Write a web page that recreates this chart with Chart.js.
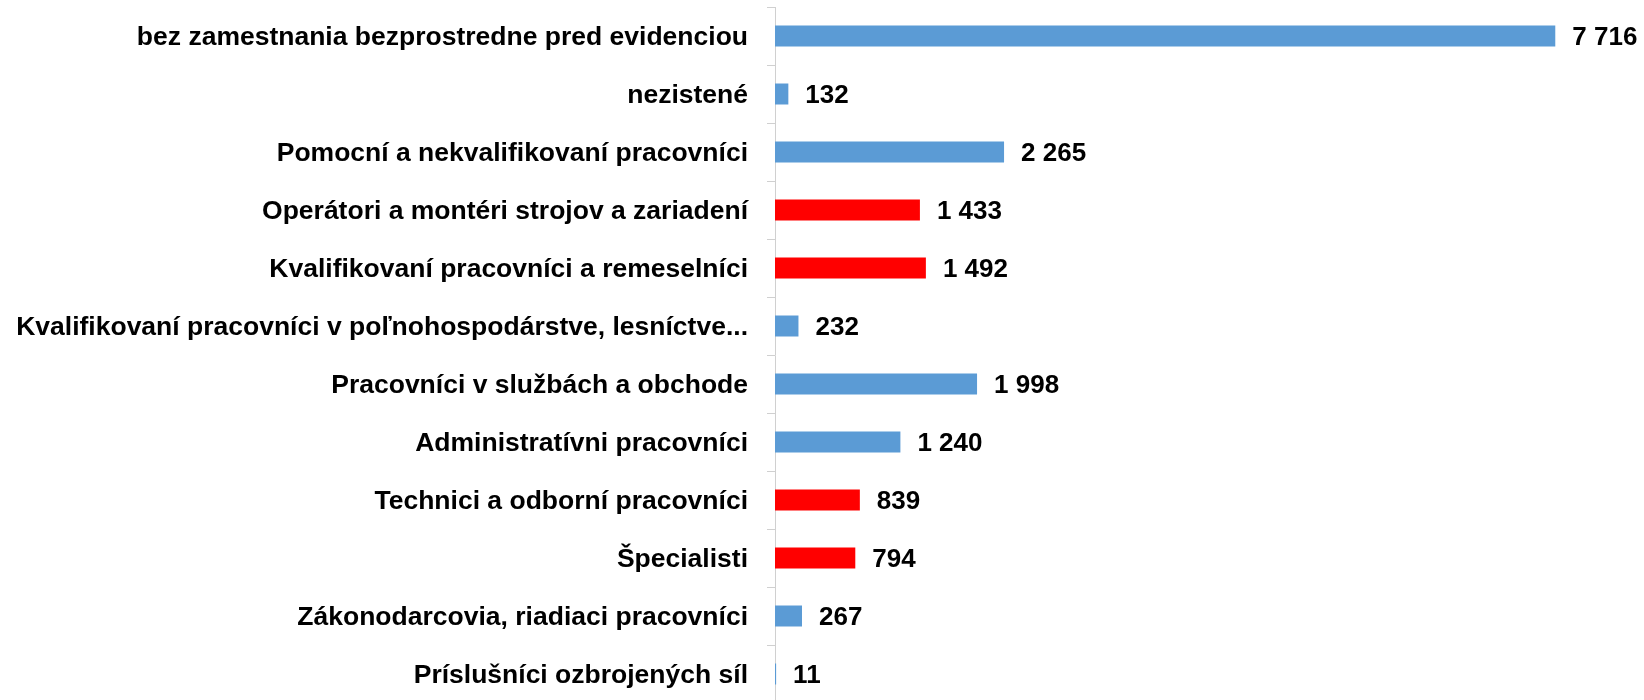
<!DOCTYPE html>
<html>
<head>
<meta charset="utf-8">
<script src="https://cdn.jsdelivr.net/npm/chart.js@4/dist/chart.umd.min.js"></script>
<style>
  html, body { margin: 0; padding: 0; background: #fff; overflow: hidden; }
  #wrap { position: relative; width: 1644px; height: 704px; }
</style>
</head>
<body>
<div id="wrap"><canvas id="chart"></canvas></div>
<script>
// categories, top to bottom
const kategorie = [
    'bez zamestnania bezprostredne pred evidenciou',
    'nezistené',
    'Pomocní a nekvalifikovaní pracovníci',
    'Operátori a montéri strojov a zariadení',
    'Kvalifikovaní pracovníci a remeselníci',
    'Kvalifikovaní pracovníci v poľnohospodárstve, lesníctve...',
    'Pracovníci v službách a obchode',
    'Administratívni pracovníci',
    'Technici a odborní pracovníci',
    'Špecialisti',
    'Zákonodarcovia, riadiaci pracovníci',
    'Príslušníci ozbrojených síl'
];
const pocty = [7716, 132, 2265, 1433, 1492, 232, 1998, 1240, 839, 794, 267, 11];
// which categories are highlighted in red
const zvyraznene = [false, false, false, true, true, false, false, false, true, true, false, false];
const xMax = 8000;

const BLUE = '#5B9BD5';
const RED = '#FF0000';
const FONT = "'Liberation Sans', Arial, sans-serif";

function formatNum(v) {
    return String(v).replace(/\B(?=(\d{3})+(?!\d))/g, ' ');
}

// value labels to the right of each bar
const valueLabels = {
    id: 'valueLabels',
    afterDatasetsDraw(chart) {
        const ctx = chart.ctx;
        const meta = chart.getDatasetMeta(0);
        ctx.save();
        ctx.font = 'bold 26px ' + FONT;
        ctx.fillStyle = '#000';
        ctx.textAlign = 'left';
        ctx.textBaseline = 'middle';
        meta.data.forEach((bar, i) => {
            ctx.fillText(formatNum(pocty[i]), bar.x + 17, bar.y + 2);
        });
        ctx.restore();
    }
};

new Chart(document.getElementById('chart').getContext('2d'), {
    type: 'bar',
    data: {
        labels: kategorie,
        datasets: [{
            data: pocty,
            backgroundColor: zvyraznene.map(z => z ? RED : BLUE),
            borderWidth: 0,
            barPercentage: 0.362,
            categoryPercentage: 1
        }]
    },
    plugins: [valueLabels],
    options: {
        indexAxis: 'y',
        responsive: true,
        maintainAspectRatio: false,
        animation: false,
        layout: { padding: { top: 7, right: 60, bottom: 1, left: 0 } },
        plugins: {
            legend: { display: false },
            tooltip: { enabled: false }
        },
        scales: {
            x: {
                display: false,
                min: 0,
                max: xMax
            },
            y: {
                afterFit: s => {
                    s.width = 775;
                    s.paddingTop = 0;
                    s.paddingBottom = 0;
                },
                border: { display: true, color: '#D0D0D0', width: 1 },
                grid: {
                    offset: true,
                    drawOnChartArea: false,
                    drawTicks: true,
                    tickLength: 8,
                    color: '#D0D0D0'
                },
                ticks: {
                    padding: 19,
                    labelOffset: 2,
                    color: '#000',
                    font: { family: FONT, size: 26.5, weight: 'bold' }
                }
            }
        }
    }
});
</script>
</body>
</html>
